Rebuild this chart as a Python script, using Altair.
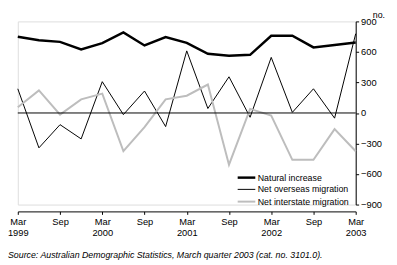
import altair as alt
import pandas as pd

quarters = [
    "Mar 1999", "Jun 1999", "Sep 1999", "Dec 1999",
    "Mar 2000", "Jun 2000", "Sep 2000", "Dec 2000",
    "Mar 2001", "Jun 2001", "Sep 2001", "Dec 2001",
    "Mar 2002", "Jun 2002", "Sep 2002", "Dec 2002",
    "Mar 2003",
]
natural_increase = [750, 715, 700, 626, 687, 792, 664, 747, 690, 582, 563, 572, 760, 760, 645, 668, 693]
net_overseas = [238, -343, -115, -255, 308, -16, 216, -134, 611, 44, 356, -42, 547, 6, 238, -51, 780]
net_interstate = [57, 222, -16, 134, 191, -376, -140, 134, 170, 280, -509, 40, -26, -461, -461, -159, -376]

series_names = ["Natural increase", "Net overseas migration", "Net interstate migration"]
series_values = [natural_increase, net_overseas, net_interstate]
series_colors = ["#000000", "#000000", "#bdbdbd"]
series_widths = [2.5, 1, 2]

y_ticks = [-900, -600, -300, 0, 300, 600, 900]
x_tick_values = [q for q in quarters if q.startswith("Mar") or q.startswith("Sep")]
zero_line = [0]

rows = []
for name, vals in zip(series_names, series_values):
    for q, v in zip(quarters, vals):
        rows.append({"quarter": q, "value": v, "series": name})
df = pd.DataFrame(rows)

FONT = "Liberation Sans"
y_scale = alt.Scale(domain=[-901, 901], nice=False, zero=False)

y_axis = alt.Axis(
    orient="right",
    values=y_ticks,
    title="no.",
    titleAngle=0,
    titleAlign="left",
    titleBaseline="alphabetic",
    titleX=17,
    titleY=-4,
    titleFontSize=9,
    titleFontWeight="normal",
    titleFont=FONT,
    titleColor="#000000",
    tickSize=3,
    labelPadding=2,
    labelAlign="left",
    labelFontSize=9.5,
    labelFont=FONT,
    labelColor="#000000",
    labelOverlap=False,
    labelFlush=False,
    domainColor="#000000",
    tickColor="#000000",
    grid=False,
)

x_enc = alt.X(
    "quarter:O",
    sort=quarters,
    scale=alt.Scale(type="point", padding=0),
    axis=alt.Axis(
        values=x_tick_values,
        labelExpr="slice(datum.value,0,3)=='Mar' ? split(datum.value,' ') : slice(datum.value,0,3)",
        labelAngle=0,
        title=None,
        offset=7,
        tickSize=3,
        labelPadding=2,
        labelFontSize=9.5,
        labelLineHeight=12,
        labelOverlap=False,
        domainColor="#000000",
        tickColor="#000000",
        labelColor="#000000",
        labelFont=FONT,
    ),
)

legend_cfg = dict(
    title=None,
    orient="none",
    legendX=226,
    legendY=152,
    symbolType="M-1.5,0H1.5",
    symbolSize=144,
    labelFontSize=9,
    labelFont=FONT,
    labelColor="#000000",
    rowPadding=0,
    labelOffset=4,
    padding=0,
)

lines = alt.Chart(df).mark_line(strokeJoin="miter", strokeCap="butt").encode(
    x=x_enc,
    y=alt.Y("value:Q", scale=y_scale, axis=y_axis),
    color=alt.Color(
        "series:N",
        sort=series_names,
        scale=alt.Scale(domain=series_names, range=series_colors),
        legend=alt.Legend(**legend_cfg),
    ),
    strokeWidth=alt.StrokeWidth(
        "series:N",
        sort=series_names,
        scale=alt.Scale(type="ordinal", domain=series_names, range=series_widths),
        legend=alt.Legend(**legend_cfg),
    ),
)

zero = alt.Chart(pd.DataFrame({"value": zero_line})).mark_rule(color="#000000", strokeWidth=1).encode(
    y=alt.Y("value:Q", scale=y_scale, axis=None)
)

chart = alt.layer(lines, zero).resolve_axis(y="independent").properties(
    width=345,
    height=187,
    autosize=alt.AutoSizeParams(type="none"),
    padding={"left": 10, "top": 11, "right": 34, "bottom": 58},
    title=alt.TitleParams(
        text="Source: Australian Demographic Statistics, March quarter 2003 (cat. no. 3101.0).",
        orient="bottom",
        anchor="start",
        frame="group",
        dx=-10,
        offset=14,
        fontSize=9,
        font=FONT,
        fontStyle="italic",
        fontWeight="normal",
        color="#000000",
    ),
).configure_view(stroke=None).configure(background="#ffffff")

chart.save("out.html", embed_options={"renderer": "svg", "actions": False})
